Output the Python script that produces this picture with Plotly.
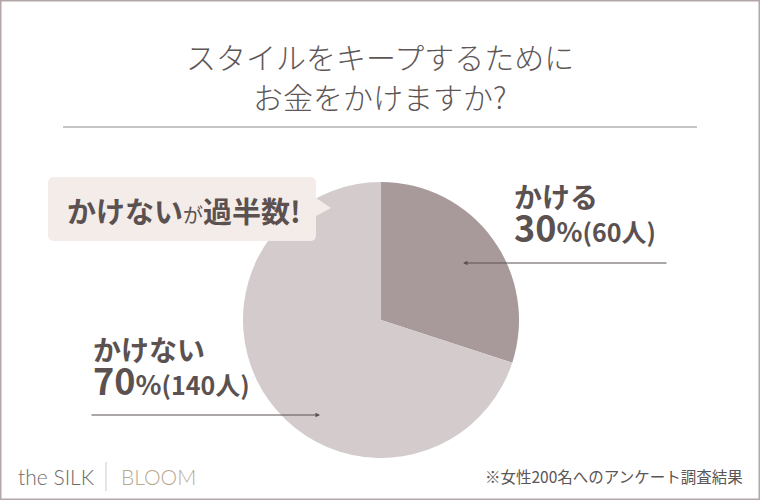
import re
import plotly.graph_objects as go

# Survey answers: "do you spend money to keep your style?"
answers = ["かける", "かけない"]
counts = [60, 140]
shares = [30, 70]
slice_colors = ["#a89a9b", "#d4cbcd"]

title_lines = ["スタイルをキープするために", "お金をかけますか?"]
callout_main = ["かけない", "過半数!"]
callout_joint = "が"
source_note = "※女性200名へのアンケート調査結果"
brand_left = "the SILK"
brand_right = "BLOOM"

W, H = 760, 500
TEXT = "#5b5151"
JP = "Noto Sans CJK JP"


def px(x):
    return x / W


def py(y):
    return 1 - y / H


fig = go.Figure()

# pie centred at (381, 320) px with a radius of about 138 px
cx, cy, r = 381, 320, 138
fig.add_trace(go.Pie(
    labels=answers,
    values=counts,
    sort=False,
    direction="clockwise",
    rotation=0,
    marker=dict(colors=slice_colors, line=dict(width=0)),
    textinfo="none",
    hoverinfo="label+percent",
    showlegend=False,
    domain=dict(x=[px(cx - r), px(cx + r)], y=[py(cy + r), py(cy - r)]),
))

annotations = []
shapes = []

# title
for i, line in enumerate(title_lines):
    annotations.append(dict(
        x=0.5, y=py(56 + i * 40), xref="paper", yref="paper",
        text=line, showarrow=False, xanchor="center", yanchor="middle",
        font=dict(family=JP, size=30, color="#5f5757", weight=300),
    ))
shapes.append(dict(type="line", xref="paper", yref="paper",
                   x0=px(63), x1=px(697), y0=py(127), y1=py(127),
                   line=dict(color="#8f8a8a", width=1)))


def slice_label(answer, share, count):
    return (f"<span style='font-size:28px'><b>{answer}</b></span><br>"
            f"<b><span style='font-size:36px'>{share}</span>"
            f"<span style='font-size:27px'>%</span>"
            f"<span style='font-size:25px'>({count}人)</span></b>")


# labels for each slice: left edge and vertical centre of the two-line block
label_pos = [(512, 214), (91, 367)]
for (lx, ly), ans, share, cnt in zip(label_pos, answers, shares, counts):
    annotations.append(dict(
        x=px(lx), y=py(ly), xref="paper", yref="paper",
        text=slice_label(ans, share, cnt),
        showarrow=False, xanchor="left", yanchor="middle", align="left",
        font=dict(family=JP, size=26, color=TEXT),
    ))

# leader arrows
for hx, hy, tail_dx in [(463, 263, 205), (320, 415, -230)]:
    annotations.append(dict(
        x=px(hx), y=py(hy), xref="paper", yref="paper", text="",
        showarrow=True, ax=tail_dx, ay=0, arrowhead=2, arrowsize=0.9,
        arrowwidth=1, arrowcolor="#5b5151", standoff=0,
    ))

# speech bubble pointing at the larger slice
bx0, bx1, by0, by1, rr = 48, 316, 177, 241, 6
tip_x, tip_y = 331, 208
bubble = (f"M{bx0 + rr},{by0} L{bx1 - rr},{by0} Q{bx1},{by0} {bx1},{by0 + rr} "
          f"L{bx1},{tip_y - 10} L{tip_x},{tip_y} L{bx1},{tip_y + 8} "
          f"L{bx1},{by1 - rr} Q{bx1},{by1} {bx1 - rr},{by1} "
          f"L{bx0 + rr},{by1} Q{bx0},{by1} {bx0},{by1 - rr} "
          f"L{bx0},{by0 + rr} Q{bx0},{by0} {bx0 + rr},{by0} Z")
bubble_paper = re.sub(
    r"(-?\d+(?:\.\d+)?),(-?\d+(?:\.\d+)?)",
    lambda m: f"{px(float(m.group(1))):.5f},{py(float(m.group(2))):.5f}",
    bubble,
)
shapes.append(dict(type="path", xref="paper", yref="paper", path=bubble_paper,
                   fillcolor="#f4ece8", line=dict(width=0), layer="above"))
annotations.append(dict(
    x=px(184), y=py(210), xref="paper", yref="paper",
    text=(f"<b>{callout_main[0]}</b><span style='font-size:20px'>{callout_joint}</span>"
          f"<b>{callout_main[1]}</b>"),
    showarrow=False, xanchor="center", yanchor="middle",
    font=dict(family=JP, size=29, color=TEXT),
))

# footer
annotations.append(dict(
    x=px(16), y=py(476), xref="paper", yref="paper", text=brand_left,
    showarrow=False, xanchor="left", yanchor="middle",
    font=dict(family="Lato", size=21, color="#6f6a6a", weight=300),
))
shapes.append(dict(type="line", xref="paper", yref="paper",
                   x0=px(106), x1=px(106), y0=py(462), y1=py(491),
                   line=dict(color="#cfcaca", width=1)))
annotations.append(dict(
    x=px(119), y=py(476), xref="paper", yref="paper", text=brand_right,
    showarrow=False, xanchor="left", yanchor="middle",
    font=dict(family="Lato", size=21, color="#b9aa92", weight=300),
))
annotations.append(dict(
    x=px(745), y=py(476), xref="paper", yref="paper", text=source_note,
    showarrow=False, xanchor="right", yanchor="middle",
    font=dict(family=JP, size=15.5, color="#5b5555"),
))

# outer frame
shapes.append(dict(type="rect", xref="paper", yref="paper",
                   x0=px(0.75), x1=px(W - 0.75), y0=py(H - 0.75), y1=py(0.75),
                   line=dict(color="#b3a7a7", width=1.5), layer="above"))

fig.update_layout(
    width=W, height=H,
    margin=dict(l=0, r=0, t=0, b=0),
    paper_bgcolor="white", plot_bgcolor="white",
    annotations=annotations, shapes=shapes,
)

fig.write_html("out.html")
